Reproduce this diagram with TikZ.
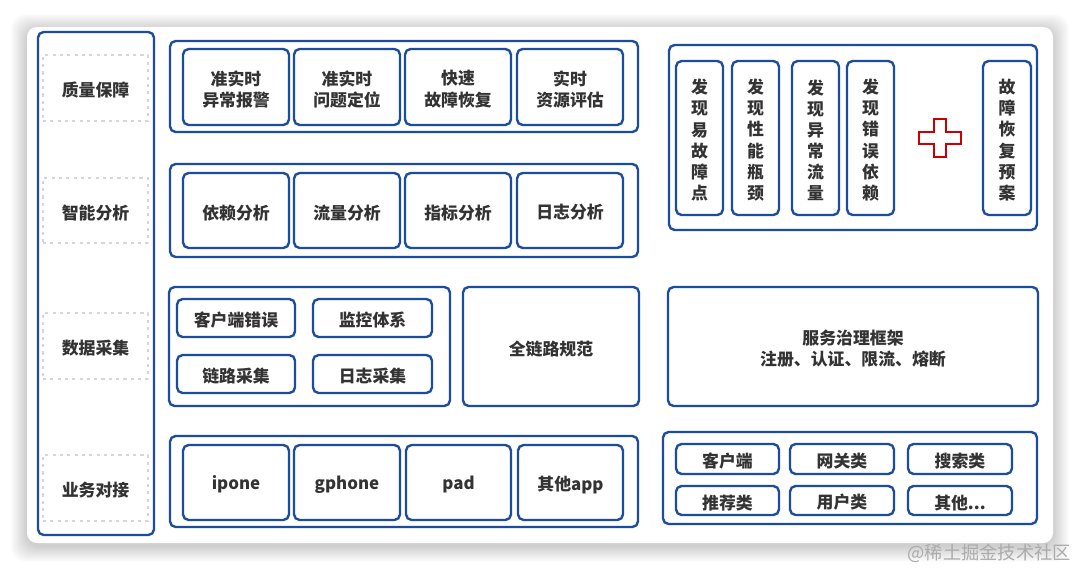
\documentclass[tikz,border=0pt]{standalone}
\usepackage{fontspec}
\setmainfont{Noto Sans CJK SC}
\usepackage{tikz}
\usetikzlibrary{fit}
\usepackage{xcolor}
\definecolor{FrameBlue}{HTML}{1C4C9E}
\definecolor{TextGrey}{HTML}{333333}
\definecolor{TagGrey}{HTML}{D6D6D6}
\definecolor{CrossRed}{HTML}{CC0000}
\definecolor{MarkGrey}{HTML}{ABABAB}
\tikzset{
  % Layer frame
  layer/.style={
    rectangle, draw=FrameBlue, line width=1.7pt,
    fill=white, rounded corners=4pt, inner sep=0pt
  },
  % Item box inside a layer
  item/.style={layer},
  % Text set in the middle of a box
  txt/.style={
    align=center, text=TextGrey, inner sep=0pt, yshift=-1.5pt,
    font=\fontsize{12}{15}\selectfont\bfseries
  },
  % Dashed tag in the left column
  tagbox/.style={
    rectangle, draw=TagGrey, line width=1.4pt,
    dash pattern=on 2.2pt off 3pt, inner sep=0pt
  },
  % Red plus sign
  plus/.style={
    draw=CrossRed, line width=1.5pt, fill=white
  }
}

\begin{document}
\begin{tikzpicture}[x=0.025cm, y=-0.025cm]

% ── page and card ───────────────────────────────────────────
\fill[white] (0,0) rectangle (1080,570);
\useasboundingbox (0,0) rectangle (1080,570);
\foreach \s in {1,...,16}
  \fill[black, opacity=0.011, rounded corners=10pt]
    (27-\s,27-\s+3) rectangle (1053+\s,543+\s+3);
\node[rectangle, fill=white, rounded corners=7pt, inner sep=0pt,
      fit={(27,27) (1053,543)}] (card) {};

% ── left column ─────────────────────────────────────────────
\node[layer, fit={(38,32) (154,535)}] (side) {};
\node[tagbox, fit={(43,55) (148,121)},  label={[txt]center:质量保障}] (tag_quality)  {};
\node[tagbox, fit={(43,178) (148,243)}, label={[txt]center:智能分析}] (tag_analysis) {};
\node[tagbox, fit={(43,313) (148,379)}, label={[txt]center:数据采集}] (tag_collect)  {};
\node[tagbox, fit={(43,455) (148,521)}, label={[txt]center:业务对接}] (tag_business) {};

% ── quality layer ───────────────────────────────────────────
\node[layer, fit={(170,41) (638,132)}] (quality) {};
\node[item, fit={(183,49) (289,125)}, label={[txt]center:准实时\\异常报警}] (q_alarm)    {};
\node[item, fit={(294,49) (400,125)}, label={[txt]center:准实时\\问题定位}] (q_locate)   {};
\node[item, fit={(405,49) (511,125)}, label={[txt]center:快速\\故障恢复}]   (q_recover)  {};
\node[item, fit={(517,49) (623,125)}, label={[txt]center:实时\\资源评估}]   (q_resource) {};

% ── analysis layer ──────────────────────────────────────────
\node[layer, fit={(170,164) (638,257)}] (analysis) {};
\node[item, fit={(183,173) (289,248)}, label={[txt]center:依赖分析}] (a_depend) {};
\node[item, fit={(294,173) (400,248)}, label={[txt]center:流量分析}] (a_flow)   {};
\node[item, fit={(405,173) (511,248)}, label={[txt]center:指标分析}] (a_metric) {};
\node[item, fit={(517,173) (623,248)}, label={[txt]center:日志分析}] (a_log)    {};

% ── collection layer ────────────────────────────────────────
\node[layer, fit={(169,287) (450,406)}] (collect) {};
\node[item, fit={(177,299) (295,337)}, label={[txt]center:客户端错误}] (c_client)  {};
\node[item, fit={(313,299) (432,337)}, label={[txt]center:监控体系}]   (c_monitor) {};
\node[item, fit={(177,355) (295,393)}, label={[txt]center:链路采集}]   (c_trace)   {};
\node[item, fit={(313,355) (432,393)}, label={[txt]center:日志采集}]   (c_log)     {};
\node[item, fit={(463,287) (639,406)}, label={[txt]center:全链路规范}] (fulltrace) {};

% ── business layer ──────────────────────────────────────────
\node[layer, fit={(170,436) (638,527)}] (business) {};
\node[item, fit={(183,445) (289,520)}, label={[txt]center:ipone}]   (b_ipone)  {};
\node[item, fit={(294,445) (400,520)}, label={[txt]center:gphone}]  (b_gphone) {};
\node[item, fit={(406,445) (511,520)}, label={[txt]center:pad}]     (b_pad)    {};
\node[item, fit={(518,445) (623,520)}, label={[txt]center:其他app}] (b_other)  {};

% ── right: fault discovery ──────────────────────────────────
\node[layer, fit={(669,45) (1037,230)}] (discover) {};
\node[item, fit={(676,61) (723,215)},  label={[txt]center:发\\现\\易\\故\\障\\点}] (d_weak)   {};
\node[item, fit={(732,61) (779,215)},  label={[txt]center:发\\现\\性\\能\\瓶\\颈}] (d_perf)   {};
\node[item, fit={(792,61) (839,215)},  label={[txt]center:发\\现\\异\\常\\流\\量}] (d_flow)   {};
\node[item, fit={(847,61) (894,215)},  label={[txt]center:发\\现\\错\\误\\依\\赖}] (d_depend) {};
\node[item, fit={(983,61) (1031,215)}, label={[txt]center:故\\障\\恢\\复\\预\\案}] (d_plan)   {};
\draw[plus] (934,119) -- (946,119) -- (946,132) -- (961,132)
  -- (961,144) -- (946,144) -- (946,157) -- (934,157)
  -- (934,144) -- (919,144) -- (919,132) -- (934,132) -- cycle;

% ── right: governance ───────────────────────────────────────
\node[item, fit={(668,287) (1038,406)},
      label={[txt]center:服务治理框架\\注册、认证、限流、熔断}] (govern) {};

% ── right: callers ──────────────────────────────────────────
\node[layer, fit={(663,432) (1037,524)}] (callers) {};
\node[item, fit={(676,444) (779,474)},  label={[txt]center:客户端}]  (r_client) {};
\node[item, fit={(790,444) (894,474)},  label={[txt]center:网关类}]  (r_gate)   {};
\node[item, fit={(908,444) (1012,474)}, label={[txt]center:搜索类}]  (r_search) {};
\node[item, fit={(676,486) (779,515)},  label={[txt]center:推荐类}]  (r_recom)  {};
\node[item, fit={(790,486) (894,515)},  label={[txt]center:用户类}]  (r_user)   {};
\node[item, fit={(908,486) (1012,515)}, label={[txt]center:其他...}] (r_misc)   {};

% ── watermark ───────────────────────────────────────────────
\node[text=MarkGrey, font=\fontsize{13}{13}\selectfont,
      anchor=east] (mark) at (1076,553) {@稀土掘金技术社区};

\end{tikzpicture}
\end{document}
